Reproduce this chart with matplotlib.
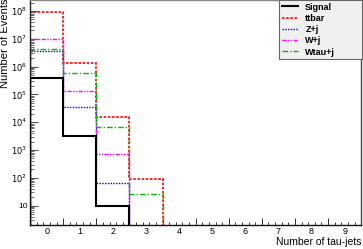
import numpy as np
import matplotlib
matplotlib.use('Agg')
import matplotlib.pyplot as plt
from matplotlib.lines import Line2D
from matplotlib.ticker import FixedLocator, FuncFormatter, LogLocator, NullFormatter

plt.rcParams['font.family'] = ['Liberation Sans', 'DejaVu Sans']

# bin edges for the tau-jet multiplicity
edges = np.arange(-0.5, 10.0, 1.0)

# events per bin (bins 0..9)
signal = [4.0e5, 3.3e3, 10, 0, 0, 0, 0, 0, 0, 0]
ttbar = [9.0e7, 1.4e6, 1.5e4, 90, 0, 0, 0, 0, 0, 0]
zj = [3.6e6, 3.4e4, 66, 0, 0, 0, 0, 0, 0, 0]
wj = [1.0e7, 1.3e5, 700, 0, 0, 0, 0, 0, 0, 0]
wtauj = [4.2e6, 6.1e5, 7.0e3, 26, 0, 0, 0, 0, 0, 0]

names = ['Signal', 'ttbar', 'Z+j', 'W+j', 'Wtau+j']
series = [signal, ttbar, zj, wj, wtauj]
colors = ['black', '#ff0000', '#0000ff', '#ff00ff', '#00bb00']
styles = ['-', (0, (1.5, 1)), (0, (1, 1)), (0, (3, 1, 1, 1, 1, 1)), (0, (4, 1.5, 1, 1.5))]
widths = [1.5, 1.2, 1.0, 1.0, 1.0]

fig = plt.figure(figsize=(3.63, 2.49), dpi=100)
ax = fig.add_axes([0.083, 0.096, 0.912, 0.902])

# draw background first, signal last
for i in [1, 2, 3, 4, 0]:
    vals = np.array(series[i], dtype=float)
    vals[vals == 0] = 1e-3
    ax.stairs(vals, edges, color=colors[i], linestyle=styles[i],
              linewidth=widths[i], baseline=1e-3, zorder=3 if i == 0 else 2)

ax.set_yscale('log')
ax.set_xlim(-0.5, 9.5)
ax.set_ylim(2, 2.4e8)

# y ticks like ROOT
ax.yaxis.set_major_locator(LogLocator(base=10, numticks=20))
ax.yaxis.set_minor_locator(LogLocator(base=10, subs=np.arange(2, 10), numticks=100))
ax.yaxis.set_minor_formatter(NullFormatter())
ax.yaxis.set_major_formatter(FuncFormatter(
    lambda v, p: '10' if abs(v - 10) < 1e-6 else r'$10^{%d}$' % round(np.log10(v))))
ax.tick_params(axis='y', which='major', direction='in', length=6, width=0.8,
               labelsize=6, pad=2, color='#555555')
ax.tick_params(axis='y', which='minor', direction='in', length=3, width=0.6, color='#555555')

# x ticks: labels at integers, long ticks at half-integers, short every 0.2
ax.xaxis.set_major_locator(FixedLocator(np.arange(0, 10)))
ax.xaxis.set_minor_locator(FixedLocator(np.arange(-0.3, 9.5, 0.2)))
ax.tick_params(axis='x', which='major', direction='in', length=0, labelsize=6.5, pad=1.5)
ax.tick_params(axis='x', which='minor', direction='in', length=2.5, width=0.7, color='#333333')
sec = ax.secondary_xaxis('bottom')
sec.set_xticks(np.arange(0.5, 9.5, 1.0))
sec.set_xticklabels([])
sec.tick_params(axis='x', direction='in', length=5, width=0.7, color='#333333')
sec.spines['bottom'].set_visible(False)

for s in ax.spines.values():
    s.set_linewidth(1.0)
ax.spines['top'].set_color('#888888')
ax.spines['right'].set_color('#444444')
ax.spines['left'].set_color('#222222')
ax.spines['bottom'].set_color('#111111')

ax.set_ylabel('Number of Events', fontsize=8, loc='top')
ax.yaxis.set_label_coords(-0.06, 1.01)
ax.set_xlabel('Number of tau-jets', fontsize=7.5, loc='right')
ax.xaxis.set_label_coords(1.0, -0.052)
ax.xaxis.label.set_va('top')

leg_handles = [Line2D([], [], color=colors[i], linestyle=styles[i], linewidth=widths[i])
               for i in range(5)]
leg = ax.legend(leg_handles, names, loc='upper left', bbox_to_anchor=(0.752, 1.003, 0.251, 0),
                mode='expand', prop={'weight': 'bold', 'size': 6.5}, frameon=True,
                fancybox=False, handlelength=1.8, handletextpad=0.8, borderpad=0.3,
                labelspacing=0.25, borderaxespad=0)
leg.get_frame().set_facecolor('#f0f0f0')
leg.get_frame().set_edgecolor('#666666')
leg.get_frame().set_linewidth(0.8)
leg.get_frame().set_alpha(1)

fig.savefig('out.png', dpi=100)
